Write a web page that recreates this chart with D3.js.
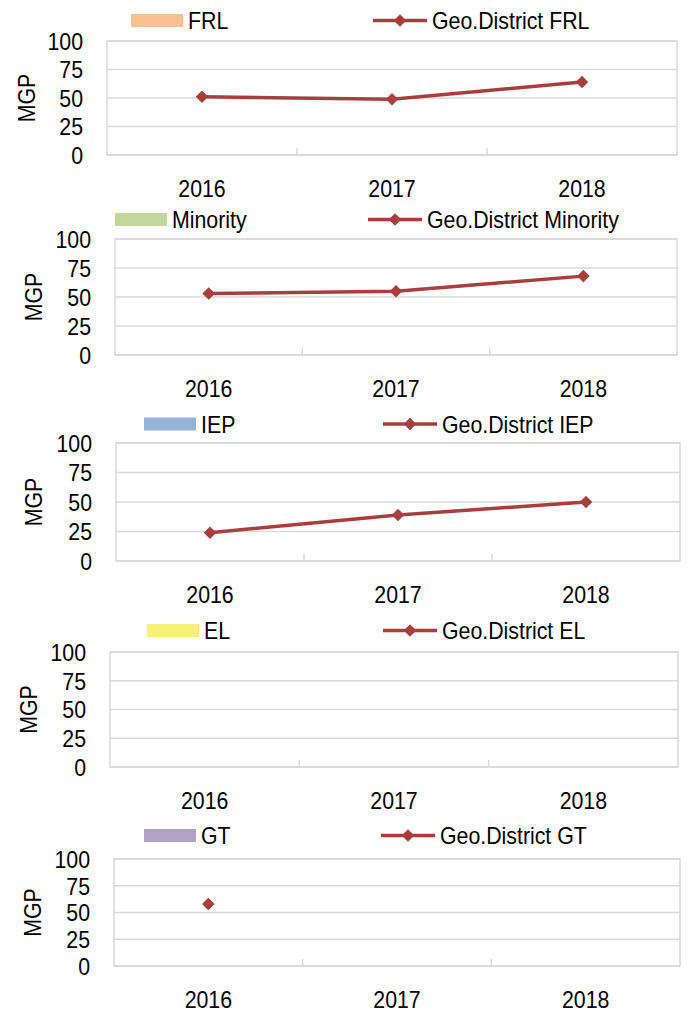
<!DOCTYPE html>
<html>
<head>
<meta charset="utf-8">
<script src="https://cdn.jsdelivr.net/npm/d3@7"></script>
<style>
  body { margin: 0; background: #fff; }
  text { font-family: "Liberation Sans", Arial, sans-serif; fill: #000; }
</style>
</head>
<body>
<script>
// chart data
var years = ["2016", "2017", "2018"],
  yTicks = [0, 25, 50, 75, 100],
  groups = ["FRL", "Minority", "IEP", "EL", "GT"],
  swatchColors = ["#fac090", "#c3d69b", "#95b3d7", "#f7f17a", "#b3a2c7"],
  frl = [51, 49, 64],
  minority = [53, 55, 68],
  iep = [24, 39, 50],
  el = [null, null, null],
  gt = [58, null, null],
  seriesValues = [frl, minority, iep, el, gt];

// where each little chart sits on the page
var layout = [
  { left: 107, right: 677, top: 41,  bottom: 155, legY: 20.5, swatchX: 131, lineX: 373, labelX: 26 },
  { left: 115, right: 677, top: 239, bottom: 355, legY: 219.5, swatchX: 115, lineX: 368, labelX: 33 },
  { left: 116, right: 680, top: 443, bottom: 561, legY: 424, swatchX: 144, lineX: 383, labelX: 33 },
  { left: 110, right: 678, top: 652, bottom: 767, legY: 630.5, swatchX: 147, lineX: 383, labelX: 28 },
  { left: 114, right: 680, top: 859, bottom: 966, legY: 835.5, swatchX: 144, lineX: 381, labelX: 32 }
];

var width = 690, height = 1011,
  lineColor = "#a83f3d",
  gridColor = "#d9d9d9",
  fontSize = 24.5,
  squeeze = 0.87; // the original uses a narrow face, so squash the text a bit

var svg = d3.select("body").append("svg")
  .attr("width", width)
  .attr("height", height);

//narrow text helper
function label(g, x, y, anchor, str, rot) {
  return g.append("text")
    .attr("transform", "translate(" + x + "," + y + ")" + (rot ? " rotate(" + rot + ")" : "") + " scale(" + squeeze + ",1)")
    .attr("dy", "0.36em")
    .attr("text-anchor", anchor)
    .style("font-size", fontSize + "px")
    .text(str);
}

groups.forEach(function(name, i) {
  var L = layout[i],
    values = seriesValues[i],
    g = svg.append("g");

  var x = d3.scaleBand().domain(years).range([L.left, L.right]),
    y = d3.scaleLinear().domain([0, 100]).range([L.bottom, L.top]);

  // gridlines
  g.selectAll("line.grid")
    .data(yTicks)
    .enter().append("line")
    .attr("class", "grid")
    .attr("x1", L.left).attr("x2", L.right)
    .attr("y1", function(d) { return y(d); })
    .attr("y2", function(d) { return y(d); })
    .attr("stroke", gridColor)
    .attr("stroke-width", 1.5);

  // plot border
  g.append("rect")
    .attr("x", L.left).attr("y", L.top)
    .attr("width", L.right - L.left).attr("height", L.bottom - L.top)
    .attr("fill", "none")
    .attr("stroke", gridColor)
    .attr("stroke-width", 1.5);

  // inner tick marks between categories
  g.selectAll("line.tick")
    .data(years.slice(1))
    .enter().append("line")
    .attr("class", "tick")
    .attr("x1", function(d) { return x(d); })
    .attr("x2", function(d) { return x(d); })
    .attr("y1", L.bottom).attr("y2", L.bottom - 7)
    .attr("stroke", gridColor)
    .attr("stroke-width", 1.5);

  yTicks.forEach(function(t) { label(g, L.left - 24, y(t), "end", t); });
  years.forEach(function(yr) { label(g, x(yr) + x.bandwidth() / 2, L.bottom + 33.5, "middle", yr); });
  label(g, L.labelX, (L.top + L.bottom) / 2, "middle", "MGP", -90);

  // the series line
  var pts = years.map(function(yr, j) { return { year: yr, v: values[j] }; });
  var line = d3.line()
    .defined(function(d) { return d.v != null; })
    .x(function(d) { return x(d.year) + x.bandwidth() / 2; })
    .y(function(d) { return y(d.v); });

  g.append("path")
    .attr("d", line(pts))
    .attr("fill", "none")
    .attr("stroke", lineColor)
    .attr("stroke-width", 3.5);

  var diamond = d3.symbol().type(d3.symbolDiamond2).size(100);
  g.selectAll("path.mark")
    .data(pts.filter(function(d) { return d.v != null; }))
    .enter().append("path")
    .attr("class", "mark")
    .attr("d", diamond)
    .attr("transform", function(d) {
      return "translate(" + (x(d.year) + x.bandwidth() / 2) + "," + y(d.v) + ")";
    })
    .attr("fill", lineColor);

  // legend
  g.append("rect")
    .attr("x", L.swatchX).attr("y", L.legY - 6.5)
    .attr("width", 52).attr("height", 13)
    .attr("fill", swatchColors[i]);
  label(g, L.swatchX + 57, L.legY, "start", name);

  g.append("line")
    .attr("x1", L.lineX).attr("x2", L.lineX + 54)
    .attr("y1", L.legY).attr("y2", L.legY)
    .attr("stroke", lineColor)
    .attr("stroke-width", 3.5);
  g.append("path")
    .attr("d", diamond)
    .attr("transform", "translate(" + (L.lineX + 27) + "," + L.legY + ")")
    .attr("fill", lineColor);
  label(g, L.lineX + 59, L.legY, "start", "Geo.District " + name);
});
</script>
</body>
</html>
